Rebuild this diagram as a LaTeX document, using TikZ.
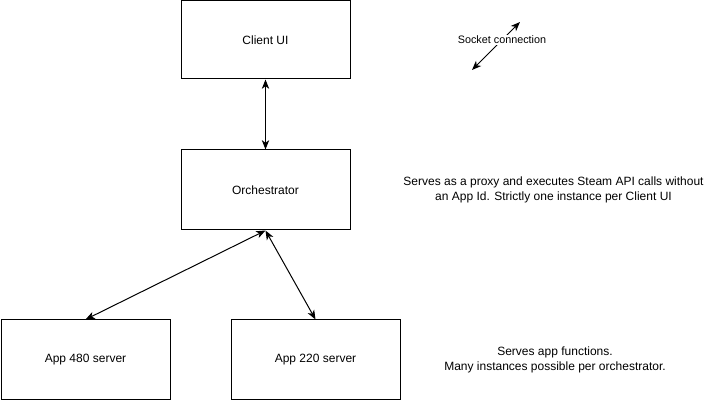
\documentclass[tikz,border=0pt]{standalone}
\usepackage{fontspec}
\setmainfont{Liberation Sans}
\usetikzlibrary{arrows.meta}
\tikzset{
  box/.style={draw, line width=0.75pt, minimum width=126.75pt, minimum height=60pt, inner sep=0pt, font=\fontsize{9}{11}\selectfont},
  note/.style={align=center, font=\fontsize{9}{11}\selectfont},
  link/.style={line width=0.75pt, {Stealth[length=7pt,width=5.5pt,inset=2pt]}-{Stealth[length=7pt,width=5.5pt,inset=2pt]}}
}

\begin{document}
\begin{tikzpicture}[x=0.75pt,y=-0.75pt]
    \useasboundingbox (0,0) rectangle (721,402);
    \node[box, minimum height=58.5pt] (client) at (265.5,40) {Client UI};
    \node[box] (orch) at (265.5,190) {Orchestrator};
    \node[box] (app480) at (85.5,360) {App 480 server};
    \node[box] (app220) at (315.5,360) {App 220 server};

    \draw[link] (client.south) -- (orch.north);
    \draw[link] (orch.south) -- (app480.north);
    \draw[link] (orch.south) -- (app220.north);

    % legend
    \coordinate (sockA) at (472,70);
    \coordinate (sockB) at (520,22);
    \draw[link] (sockA) -- (sockB);
    \node[note, fill=white, inner sep=1pt, font=\fontsize{8.1}{10}\selectfont] (socklabel) at (502,40) {Socket connection};

    \node[note] (orchnote) at (553.5,190) {Serves as a proxy and executes Steam API calls without\\an App Id. Strictly one instance per Client UI};
    \node[note] (appnote) at (555,360) {Serves app functions.\\Many instances possible per orchestrator.};
\end{tikzpicture}
\end{document}
